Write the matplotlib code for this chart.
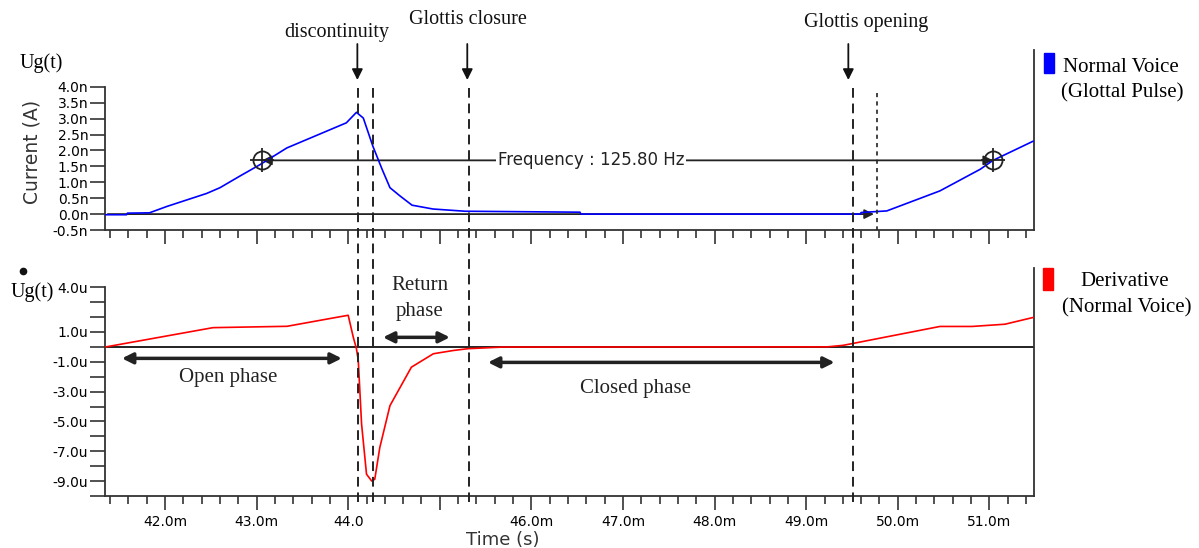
import numpy as np
import matplotlib
matplotlib.use('Agg')
import matplotlib.pyplot as plt
from matplotlib.lines import Line2D
from matplotlib.patches import Rectangle
from matplotlib.ticker import FixedLocator, FixedFormatter, MultipleLocator
from matplotlib.transforms import blended_transform_factory

# glottal pulse (nA) vs time (ms)
t_pulse = [41.345, 41.58, 41.59, 41.83, 42.02, 42.455, 42.60, 42.82, 43.04, 43.33,
           43.98, 44.09, 44.165, 44.27, 44.37, 44.456, 44.566, 44.697, 44.926, 45.275,
           46.53, 46.54, 49.59, 49.60, 49.88, 50.46, 50.90, 51.04, 51.476]
ug_pulse = [-0.02, -0.02, 0.03, 0.04, 0.24, 0.65, 0.83, 1.20, 1.56, 2.08,
            2.87, 3.20, 3.02, 2.13, 1.41, 0.83, 0.57, 0.28, 0.16, 0.09,
            0.06, 0.0, 0.0, 0.05, 0.10, 0.73, 1.41, 1.69, 2.29]

# derivative (uA) vs time (ms)
t_deriv = [41.356, 42.524, 43.332, 43.80, 44.00, 44.055, 44.09, 44.11, 44.146, 44.20,
           44.256, 44.29, 44.345, 44.456, 44.69, 44.93, 45.15, 45.31, 45.695, 49.227,
           49.40, 49.51, 50.46, 50.81, 51.17, 51.476]
du_deriv = [0.0, 1.29, 1.38, 1.90, 2.12, 0.66, -0.12, -0.91, -5.17, -8.54,
            -8.99, -8.88, -6.75, -3.94, -1.36, -0.46, -0.24, -0.12, -0.01, 0.0,
            0.1, 0.23, 1.37, 1.37, 1.52, 1.97]

# dashed markers and event labels
dashed_times = [44.107, 44.27, 45.32, 49.51]
dotted_time = 49.77
event_times = [44.10, 45.30, 49.46]
event_labels = ['discontinuity', 'Glottis closure', 'Glottis opening']
event_label_x = [43.87, 45.31, 49.65]

# cursors of the frequency measurement
cursor_t = [43.06, 51.04]
cursor_level = 1.69
freq_text = 'Frequency : 125.80 Hz'

# phases (start, end, arrow level uA)
phase_names = ['Open phase', 'Return\nphase', 'Closed phase']
phase_start = [41.53, 44.38, 45.526]
phase_end = [43.93, 45.11, 49.31]
phase_level = [-0.77, 0.64, -1.04]
phase_text_x = [42.69, 44.78, 47.14]
phase_text_y = [-2.05, 3.25, -2.79]

xticks_major = [42, 43, 44, 45, 46, 47, 48, 49, 50, 51]
xtick_labels = ['42.0m', '43.0m', '44.0', '', '46.0m', '47.0m', '48.0m', '49.0m', '50.0m', '51.0m']
top_yticks = [-0.5, 0.0, 0.5, 1.0, 1.5, 2.0, 2.5, 3.0, 3.5, 4.0]
top_ylabels = ['-0.5n', '0.0n', '0.5n', '1.0n', '1.5n', '2.0n', '2.5n', '3.0n', '3.5n', '4.0n']
bot_yticks = list(range(-10, 5))
bot_ylabels = {4: '4.0u', 1: '1.0u', -1: '-1.0u', -3: '-3.0u', -5: '-5.0u', -7: '-7.0u', -9: '-9.0u'}

W, H = 1199, 548
SERIF = ['Liberation Serif', 'DejaVu Serif']
AX_COL = '#333333'


def fpx(x, y):
    return x / W, 1 - y / H


fig = plt.figure(figsize=(W / 100, H / 100), dpi=100)
ax1 = fig.add_axes([105 / W, 1 - 230 / H, 929 / W, 180 / H])
ax2 = fig.add_axes([105 / W, 1 - 496 / H, 929 / W, 228 / H])

for ax in (ax1, ax2):
    ax.set_xlim(41.345, 51.487)
    ax.spines['top'].set_visible(False)
    for s in ('left', 'right', 'bottom'):
        ax.spines[s].set_color(AX_COL)
        ax.spines[s].set_linewidth(1.3)
    ax.xaxis.set_major_locator(FixedLocator(xticks_major))
    ax.xaxis.set_minor_locator(MultipleLocator(0.2))
    ax.tick_params(axis='x', which='major', length=10, width=1.2, color=AX_COL, labelsize=10, pad=4)
    ax.tick_params(axis='x', which='minor', length=6, width=1.2, color=AX_COL)
    ax.tick_params(axis='y', length=11, width=1.2, color=AX_COL, labelsize=10, pad=1)
    ax.set_facecolor('none')

# top panel
ax1.set_ylim(-0.5, 5.16)
ax1.spines['left'].set_bounds(-0.5, 4.0)
ax1.yaxis.set_major_locator(FixedLocator(top_yticks))
ax1.yaxis.set_major_formatter(FixedFormatter(top_ylabels))
ax1.set_xticklabels([])
ax1.annotate('', xy=(dotted_time, 0), xytext=(41.345, 0),
             arrowprops=dict(arrowstyle='-|>', color='#222222', lw=1.3, mutation_scale=14),
             annotation_clip=False)
ax1.plot(t_pulse, ug_pulse, color='#0000ff', lw=1.2, zorder=4)
ax1.annotate('', xy=(cursor_t[0], cursor_level), xytext=(cursor_t[1], cursor_level),
             arrowprops=dict(arrowstyle='<|-|>', color='#222222', lw=1.3, mutation_scale=14,
                             shrinkA=0, shrinkB=0))
ax1.plot(cursor_t, [cursor_level] * 2, ls='none', marker='o', ms=13, mfc='none',
         mec='#222222', mew=1.3, zorder=5)
ax1.plot(cursor_t, [cursor_level] * 2, ls='none', marker='+', ms=17, mec='#222222',
         mew=1.3, zorder=5)
ax1.text(46.65, cursor_level, freq_text, ha='center', va='center', fontsize=12,
         color='#222222', bbox=dict(fc='white', ec='none', pad=1.5), zorder=6)

# bottom panel
ax2.set_ylim(-10.0, 5.29)
ax2.spines['left'].set_bounds(-10, 4)
ax2.yaxis.set_major_locator(FixedLocator(bot_yticks))
ax2.yaxis.set_major_formatter(FixedFormatter([bot_ylabels.get(v, '') for v in bot_yticks]))
ax2.set_xticklabels(xtick_labels)
ax2.axhline(0, color='#111111', lw=1.3, zorder=2)
ax2.plot(t_deriv, du_deriv, color='#ff0000', lw=1.2, zorder=3)

for name, a, b, lev, tx, ty in zip(phase_names, phase_start, phase_end, phase_level,
                                   phase_text_x, phase_text_y):
    ax2.annotate('', xy=(b, lev), xytext=(a, lev),
                 arrowprops=dict(arrowstyle='<|-|>', color='#222222', lw=2.5,
                                 mutation_scale=16, shrinkA=0, shrinkB=0))
    ax2.text(tx, ty, name, ha='center', va='center', fontsize=15, family=SERIF,
             color='#222222', linespacing=1.45)

# dashed markers across both panels
tr = blended_transform_factory(ax2.transData, fig.transFigure)
for t in dashed_times:
    fig.add_artist(Line2D([t, t], [1 - 88 / H, 1 - 502 / H], transform=tr, color='#222222',
                          lw=1.4, dashes=(5, 3)))
fig.add_artist(Line2D([dotted_time, dotted_time], [1 - 93 / H, 1 - 230 / H], transform=tr,
                      color='#222222', lw=1.2, dashes=(2.5, 2.5)))

for t in event_times:
    ax2.annotate('', xy=(t, 1 - 80 / H), xytext=(t, 1 - 44 / H),
                 xycoords=('data', 'figure fraction'), textcoords=('data', 'figure fraction'),
                 arrowprops=dict(arrowstyle='-|>', color='#111111', lw=1.3, mutation_scale=16,
                                 shrinkA=0, shrinkB=0), annotation_clip=False)
for lab, lx, ly in zip(event_labels, event_label_x, [33, 20, 22]):
    ax2.annotate(lab, xy=(lx, 1 - ly / H), xycoords=('data', 'figure fraction'),
                 ha='center', va='center', fontsize=14.5, family=SERIF, color='#111111',
                 annotation_clip=False)

# axis titles
fig.text(*fpx(41, 63), 'Ug(t)', ha='center', va='center', fontsize=14.5, family=SERIF)
fig.text(*fpx(32, 292), 'Ug(t)', ha='center', va='center', fontsize=14.5, family=SERIF)
fig.add_artist(Line2D([23 / W], [1 - 271 / H], marker='o', ms=4.5, color='#111111'))
fig.text(*fpx(32, 152), 'Current (A)', ha='center', va='center', rotation=90,
         fontsize=13.5, color='#333333')
fig.text(*fpx(503, 540), 'Time (s)', ha='center', va='center', fontsize=13, color='#333333')

# legend boxes
fig.add_artist(Rectangle(fpx(1044, 73), 10 / W, 20 / H, transform=fig.transFigure,
                         color='#0000ff'))
fig.text(*fpx(1121, 67), 'Normal Voice', ha='center', va='center', fontsize=15, family=SERIF)
fig.text(*fpx(1122, 93), '(Glottal Pulse)', ha='center', va='center', fontsize=15, family=SERIF)
fig.add_artist(Rectangle(fpx(1043, 290), 10 / W, 22 / H, transform=fig.transFigure,
                         color='#ff0000'))
fig.text(*fpx(1125, 281), 'Derivative', ha='center', va='center', fontsize=15, family=SERIF)
fig.text(*fpx(1127, 308), '(Normal Voice)', ha='center', va='center', fontsize=15, family=SERIF)

fig.savefig('out.png', dpi=100)
